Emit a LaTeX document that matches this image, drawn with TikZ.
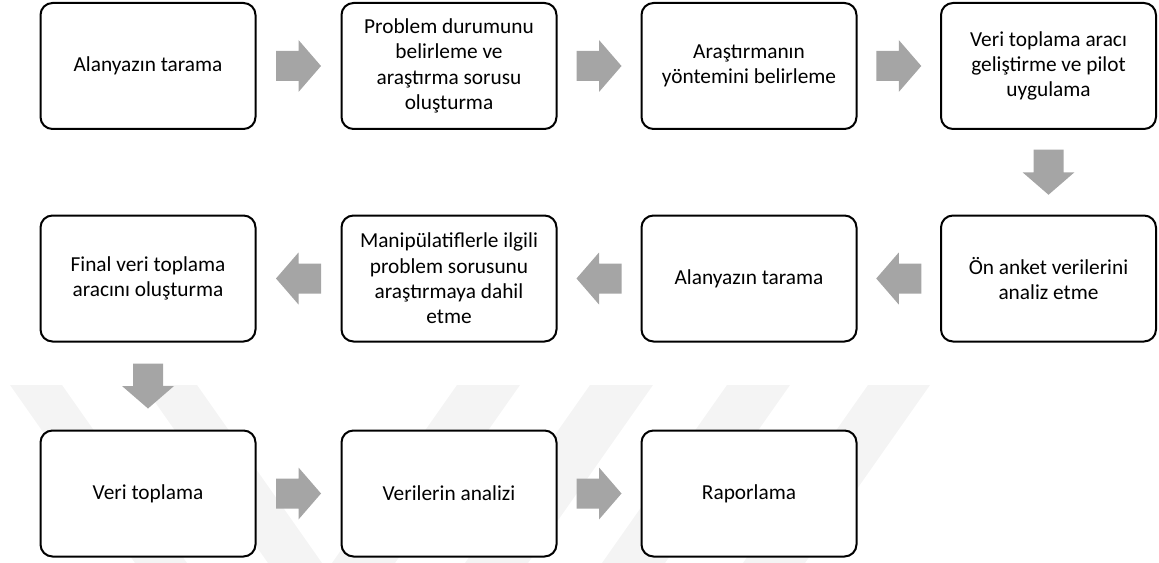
\documentclass[tikz,border=0pt]{standalone}
\usepackage{fontspec}
\setmainfont{Carlito}
\usetikzlibrary{calc}
\definecolor{arrowgray}{RGB}{165,165,165}
\definecolor{markgray}{RGB}{244,244,244}

\begin{document}
\begin{tikzpicture}[x=0.75pt,y=-0.75pt,
  stepbox/.style={draw=black, line width=1.5pt, rounded corners=9pt, fill=white,
    minimum width=161.25pt, minimum height=94.5pt, align=center, inner sep=2pt,
    font=\fontsize{16pt}{19pt}\selectfont},
  blockarrow/.pic={\fill[arrowgray] (-22.5,-15) -- (0,-15) -- (0,-26) -- (22.5,0)
    -- (0,26) -- (0,15) -- (-22.5,15) -- cycle;}
]
\useasboundingbox (0,0) rectangle (1159,563);

% faint background stripes
\fill[markgray] (10,385) -- (62,385) -- (187,563) -- (135,563) -- cycle;
\fill[markgray] (143,385) -- (197,385) -- (322,563) -- (268,563) -- cycle;
\fill[markgray] (457,385) -- (520,385) -- (395,563) -- (332,563) -- cycle;
\fill[markgray] (590,385) -- (653,385) -- (528,563) -- (465,563) -- cycle;
\fill[markgray] (727,385) -- (790,385) -- (665,563) -- (602,563) -- cycle;
\fill[markgray] (868,385) -- (930,385) -- (805,563) -- (743,563) -- cycle;

% process steps
\node[stepbox] (a1) at (148,66) {Alanyazın tarama};
\node[stepbox] (a2) at (449,66) {Problem durumunu\\belirleme ve\\araştırma sorusu\\oluşturma};
\node[stepbox] (a3) at (749,66) {Araştırmanın\\yöntemini belirleme};
\node[stepbox] (a4) at (1048.5,66) {Veri toplama aracı\\geliştirme ve pilot\\uygulama};
\node[stepbox] (b4) at (1048.5,278.5) {Ön anket verilerini\\analiz etme};
\node[stepbox] (b3) at (749,278.5) {Alanyazın tarama};
\node[stepbox] (b2) at (449,278.5) {Manipülatiflerle ilgili\\problem sorusunu\\araştırmaya dahil\\etme};
\node[stepbox] (b1) at (148,278.5) {Final veri toplama\\aracını oluşturma};
\node[stepbox] (c1) at (148,493.5) {Veri toplama};
\node[stepbox] (c2) at (449,493.5) {Verilerin analizi};
\node[stepbox] (c3) at (749,493.5) {Raporlama};

% block arrows between steps
\pic at ($(a1)!0.5!(a2)$) {blockarrow};
\pic at ($(a2)!0.5!(a3)$) {blockarrow};
\pic at ($(a3)!0.5!(a4)$) {blockarrow};
\pic[rotate=-90] at ($(a4)!0.5!(b4)$) {blockarrow};
\pic[rotate=180] at ($(b4)!0.5!(b3)$) {blockarrow};
\pic[rotate=180] at ($(b3)!0.5!(b2)$) {blockarrow};
\pic[rotate=180] at ($(b2)!0.5!(b1)$) {blockarrow};
\pic[rotate=-90] at ($(b1)!0.5!(c1)$) {blockarrow};
\pic at ($(c1)!0.5!(c2)$) {blockarrow};
\pic at ($(c2)!0.5!(c3)$) {blockarrow};
\end{tikzpicture}
\end{document}
